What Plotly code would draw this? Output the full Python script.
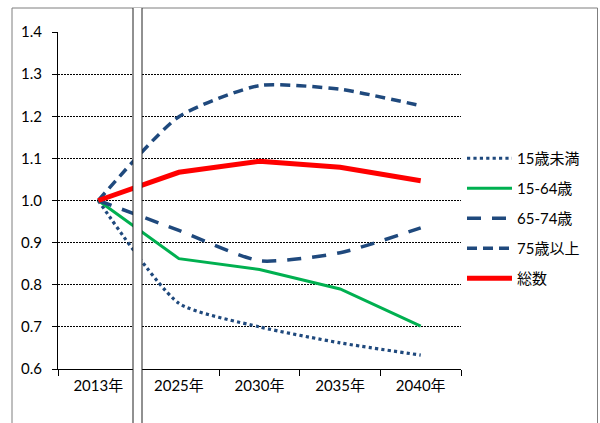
import plotly.graph_objects as go

categories = ["2013年", "2025年", "2030年", "2035年", "2040年"]
under15 = [1.0, 0.756, 0.700, 0.662, 0.633]
age15_64 = [1.0, 0.862, 0.836, 0.790, 0.702]
age65_74 = [1.0, 0.929, 0.857, 0.876, 0.935]
over75 = [1.0, 1.199, 1.273, 1.264, 1.225]
total = [1.0, 1.067, 1.093, 1.079, 1.047]
y_ticks = [0.6, 0.7, 0.8, 0.9, 1.0, 1.1, 1.2, 1.3, 1.4]

navy = "#1F497D"
FONT = "Lato, 'Noto Sans CJK JP'"

fig = go.Figure()
series = [
    ("15歳未満", under15, dict(color=navy, width=3.2, dash="dot"), "spline"),
    ("15-64歳", age15_64, dict(color="#00B050", width=3), "linear"),
    ("65-74歳", age65_74, dict(color=navy, width=3.5, dash="14px,11px"), "spline"),
    ("75歳以上", over75, dict(color=navy, width=3.5, dash="10px,6px"), "spline"),
    ("総数", total, dict(color="#FF0000", width=5), "linear"),
]
for i, (name, vals, line, shape) in enumerate(series):
    line = dict(line)
    line["shape"] = shape
    if shape == "spline":
        line["smoothing"] = 0.6
    fig.add_trace(go.Scatter(x=categories, y=vals, name=name, mode="lines",
                             line=line, legendgroup=f"g{i}"))

L, R, T, B = 58, 139, 32, 54
pw = 600 - L - R
ph = 423 - T - B

def px_x(p):
    return (p - L) / pw

def px_y(p):
    return (423 - B - p) / ph

shapes = [
    # outer border
    dict(type="rect", xref="paper", yref="paper", x0=px_x(12), x1=px_x(597.5),
         y0=px_y(440), y1=px_y(8), line=dict(color="#7f7f7f", width=1),
         fillcolor="rgba(0,0,0,0)", layer="below"),
    # axis break
    dict(type="rect", xref="paper", yref="paper", x0=px_x(133), x1=px_x(142),
         y0=px_y(440), y1=px_y(8), line=dict(width=0), fillcolor="white", layer="above"),
    dict(type="line", xref="paper", yref="paper", x0=px_x(133), x1=px_x(133),
         y0=px_y(440), y1=px_y(8), line=dict(color="#222222", width=1), layer="above"),
    dict(type="line", xref="paper", yref="paper", x0=px_x(142), x1=px_x(142),
         y0=px_y(440), y1=px_y(8), line=dict(color="#222222", width=1), layer="above"),
]

fig.update_layout(
    width=600, height=423,
    margin=dict(l=L, r=R, t=T, b=B, pad=0),
    paper_bgcolor="white", plot_bgcolor="white",
    font=dict(family=FONT, size=15, color="black"),
    showlegend=True,
    legend=dict(x=px_x(462), y=px_y(142), xanchor="left", yanchor="top",
                tracegroupgap=7.5, font=dict(size=15, family=FONT),
                bgcolor="rgba(0,0,0,0)", itemwidth=45),
    shapes=shapes,
    xaxis=dict(type="category", showline=True, linecolor="black", linewidth=1,
               ticks="outside", ticklen=6, tickcolor="black", tickson="boundaries",
               showgrid=False, tickfont=dict(size=15), range=[-0.5, 4.5],
               ticklabelstandoff=3),
    yaxis=dict(range=[0.6, 1.4], tickvals=y_ticks, tickformat=".1f",
               showline=True, linecolor="black", linewidth=1,
               ticks="outside", ticklen=5, tickcolor="black",
               showgrid=True, gridcolor="#000000", gridwidth=1, griddash="2px,1px",
               zeroline=False, tickfont=dict(size=15), ticklabelstandoff=7),
)

fig.write_html("out.html", config={"displayModeBar": False},
               post_script="document.body.style.margin='0';document.body.style.overflow='hidden';")
